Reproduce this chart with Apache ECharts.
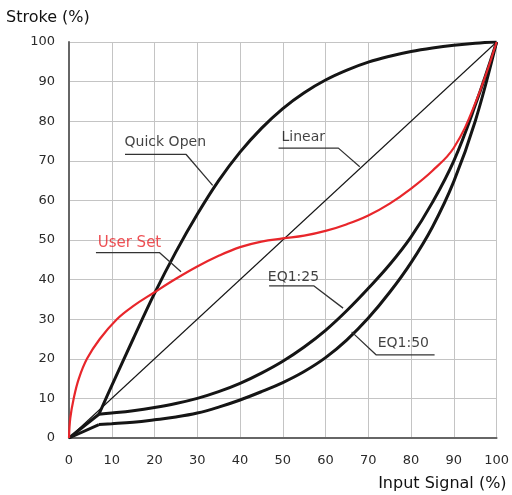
<!DOCTYPE html>
<html>
<head>
<meta charset="utf-8">
<script src="https://cdn.jsdelivr.net/npm/echarts@6/dist/echarts.min.js"></script>
<style>
html,body{margin:0;padding:0;background:#fff;}
#chart{width:512px;height:495px;}
</style>
</head>
<body>
<div id="chart"></div>
<script>
// Axis ticks
var xTicks = [0,10,20,30,40,50,60,70,80,90,100];
var yTicks = [0,10,20,30,40,50,60,70,80,90,100];

// Curves [input %, stroke %]
var commonStart = [[0,0],[7,6]];
var eq50Start = [[0,0],[7,3.4]];
var linear = [[0,0],[100,100]];
var quickOpen = [[7,6],[10,13.2],[15,25],[20,36.5],[25,47],[30,56.5],[35,65],[40,72.2],[45,78.2],[50,83.2],[55,87.2],[60,90.4],[65,92.9],[70,94.9],[75,96.4],[80,97.6],[85,98.5],[90,99.2],[95,99.7],[100,100]];
var userSet = [[0,0],[0.3,5],[1.1,10],[2.3,15],[4.2,20],[7.2,25],[11.2,30],[15,33.3],[20,36.8],[25,40.2],[30,43.3],[35,46],[40,48.2],[45,49.6],[50,50.4],[55,51.1],[60,52.3],[65,54],[70,56.2],[75,59.2],[80,63],[85,67.5],[90,73.3],[95,84.5],[100,100]];
var eq25 = [[7,6],[10,6.3],[15,6.9],[20,7.7],[25,8.7],[30,10],[35,11.7],[40,13.8],[45,16.4],[50,19.4],[55,23],[60,27.2],[65,32.2],[70,37.8],[75,43.8],[80,50.8],[85,59.5],[90,70],[95,84],[100,100]];
var eq50 = [[7,3.4],[10,3.6],[15,4],[20,4.6],[25,5.3],[30,6.3],[35,7.8],[40,9.6],[45,11.7],[50,14],[55,16.8],[60,20.3],[65,24.8],[70,30.3],[75,36.8],[80,44.3],[85,53.3],[90,64.8],[95,80],[100,100]];

// Callout labels: name, text anchor, leader polyline
var calloutNames = ['Quick Open','Linear','User Set','EQ1:25','EQ1:50'];
var calloutAnchors = [[13,74.6],[49.7,75.9],[6.7,49.3],[46.5,40.6],[72.2,23.8]];
var calloutLeaders = [
  [[13.1,71.6],[27.4,71.6],[33.6,63.8]],
  [[49,73.2],[63,73.2],[68,68.5]],
  [[6.3,46.8],[21.2,46.8],[26.2,42]],
  [[46.8,38.4],[57.3,38.4],[64.1,32.8]],
  [[85.5,21],[71.8,21],[66.1,26.8]]
];
var calloutColors = ['#111','#111','#e8262b','#111','#111'];
var calloutSizes = [14,14,15,14,14];

var BLACK = '#151515';
var RED = '#e8262b';
var FONT = 'DejaVu Sans';

function curve(data, color, width, smooth){
  return {type:'line', data:data, showSymbol:false, symbol:'none', smooth:smooth,
    lineStyle:{color:color, width:width}, silent:true, z:3};
}

var series = [
  curve(linear, BLACK, 1.1, false),
  curve(commonStart, BLACK, 3, false),
  curve(eq50Start, BLACK, 3, false),
  curve(quickOpen, BLACK, 3, 0.4),
  curve(eq25, BLACK, 3, 0.4),
  curve(eq50, BLACK, 3, 0.4),
  curve(userSet, RED, 2.2, 0.4)
];
calloutLeaders.forEach(function(l, i){
  series.push({type:'line', data:l, showSymbol:false, symbol:'none', smooth:false,
    lineStyle:{color:'#333', width:1.3}, silent:true, z:4});
});
series.push({
  type:'scatter', symbolSize:0, silent:true, z:5,
  data: calloutNames.map(function(n,i){
    return {name:n, value:calloutAnchors[i],
      label:{show:true, position:'right', distance:0, formatter:'{b}',
        color:calloutColors[i], fontSize:calloutSizes[i], fontFamily:FONT}};
  })
});

var chart = echarts.init(document.getElementById('chart'), null, {renderer:'canvas'});
chart.setOption({
  animation:false,
  backgroundColor:'#fff',
  grid:{left:69, right:6, top:42, bottom:57, containLabel:false},
  xAxis:{type:'value', min:xTicks[0], max:xTicks[xTicks.length-1], interval:10,
    axisLine:{show:true, lineStyle:{color:'#666', width:2}},
    axisTick:{show:false},
    axisLabel:{color:'#2a2a2a', fontSize:13, fontFamily:FONT, margin:16,
      formatter:function(v){return xTicks.indexOf(v)>=0 ? String(v) : '';}},
    splitLine:{show:true, lineStyle:{color:'#c4c4c4', width:1}},
    name:'Input Signal (%)', nameLocation:'end', nameGap:0,
    nameTextStyle:{color:'#111', fontSize:16, fontFamily:FONT, align:'right', verticalAlign:'top', padding:[38,-10,0,0]}
  },
  yAxis:{type:'value', min:yTicks[0], max:yTicks[yTicks.length-1], interval:10,
    axisLine:{show:true, lineStyle:{color:'#666', width:2}},
    axisTick:{show:false},
    axisLabel:{color:'#2a2a2a', fontSize:13, fontFamily:FONT, margin:14,
      formatter:function(v){return yTicks.indexOf(v)>=0 ? String(v) : '';}},
    splitLine:{show:true, lineStyle:{color:'#c4c4c4', width:1}},
    name:'Stroke (%)', nameLocation:'end', nameGap:16,
    nameTextStyle:{color:'#111', fontSize:16, fontFamily:FONT, align:'left', padding:[0,0,0,-63]}
  },
  series:series
});
</script>
</body>
</html>
